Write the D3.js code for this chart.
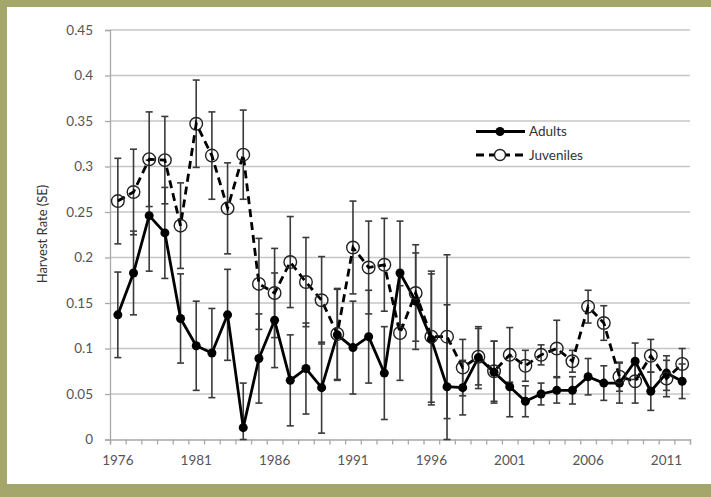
<!DOCTYPE html>
<html>
<head>
<meta charset="utf-8">
<script src="https://cdn.jsdelivr.net/npm/d3@7"></script>
<style>
  html, body { margin: 0; padding: 0; background: #a4a66c; }
  svg { display: block; }
  text { font-family: Lato, "Open Sans", sans-serif; }
</style>
</head>
<body>
<svg id="chart" width="711" height="497"></svg>
<script>
const years = d3.range(1976, 2013);
const adults = [0.137,0.183,0.246,0.227,0.133,0.103,0.095,0.137,0.013,0.089,
                0.131,0.065,0.078,0.057,0.115,0.101,0.113,0.073,0.183,0.152,
                0.110,0.058,0.057,0.090,0.074,0.058,0.042,0.050,0.054,0.054,
                0.069,0.062,0.062,0.086,0.053,0.073,0.064];
const adultsSE = [0.047,0.046,0.061,0.050,0.049,0.049,0.049,0.050,0.049,0.049,
                  0.052,0.050,0.050,0.050,0.050,0.051,0.051,0.051,0.057,0.053,
                  0.072,0.090,0.030,0.034,0.034,0.033,0.017,0.012,0.014,0.015,
                  0.020,0.019,0.022,0.020,0.021,0.019,0.019];
const juveniles = [0.262,0.272,0.308,0.307,0.235,0.347,0.312,0.254,0.313,0.171,
                   0.161,0.195,0.173,0.153,0.116,0.211,0.189,0.192,0.117,0.161,
                   0.113,0.113,0.079,0.091,0.075,0.093,0.081,0.093,0.100,0.086,
                   0.146,0.128,0.069,0.064,0.092,0.067,0.083];
const juvenilesSE = [0.047,0.047,0.052,0.048,0.047,0.048,0.048,0.050,0.049,0.050,
                     0.049,0.050,0.049,0.048,0.050,0.051,0.051,0.051,0.052,0.053,
                     0.072,0.090,0.031,0.031,0.033,0.030,0.017,0.011,0.031,0.012,
                     0.018,0.019,0.016,0.024,0.018,0.020,0.017];
const yTicks = [0,0.05,0.1,0.15,0.2,0.25,0.3,0.35,0.4,0.45];
const xLabelYears = [1976,1981,1986,1991,1996,2001,2006,2011];
const yTitle = "Harvest Rate (SE)";
const seriesNames = ["Adults","Juveniles"];

(function(){
const svg = d3.select("#chart");
svg.append("rect").attr("x",7).attr("y",7).attr("width",704).attr("height",477).attr("fill","#ffffff");

const pLeft = 110, pRight = 690, pTop = 30, pBottom = 439.5;
const x = d3.scaleBand().domain(years).range([pLeft, pRight]).paddingInner(0).paddingOuter(0);
const xEdge = d3.scaleLinear().domain([0, years.length]).range([pLeft, pRight]);
const y = d3.scaleLinear().domain([0, 0.45]).range([pBottom, pTop]);
const cx = yr => x(yr) + x.bandwidth()/2;

// gridlines
svg.append("g").selectAll("line").data(yTicks.filter(t=>t>0)).join("line")
  .attr("x1", pLeft).attr("x2", pRight)
  .attr("y1", d=>y(d)).attr("y2", d=>y(d))
  .attr("stroke","#c6c6c6").attr("stroke-width",1.3);

// y axis
const yAxis = svg.append("g").attr("transform",`translate(${pLeft},0)`)
  .call(d3.axisLeft(y).tickValues(yTicks).tickSize(5).tickPadding(12)
        .tickFormat(d => String(+d.toFixed(2))));
yAxis.select(".domain").attr("stroke","#a8a8a8").attr("stroke-width",1.3);
yAxis.selectAll(".tick line").attr("stroke","#a8a8a8").attr("stroke-width",1.3);
yAxis.selectAll(".tick text").attr("fill","#555").attr("font-size",13.5);

// x axis tick marks at band edges
const xAxisMarks = svg.append("g").attr("transform",`translate(0,${pBottom})`)
  .call(d3.axisBottom(xEdge).tickValues(d3.range(0, years.length+1)).tickSize(5).tickFormat(""));
xAxisMarks.select(".domain").attr("stroke","#a8a8a8").attr("stroke-width",1.3);
xAxisMarks.selectAll(".tick line").attr("stroke","#a8a8a8").attr("stroke-width",1.3);

const xAxisLabels = svg.append("g").attr("transform",`translate(0,${pBottom})`)
  .call(d3.axisBottom(x).tickValues(xLabelYears).tickSize(0).tickPadding(16));
xAxisLabels.select(".domain").remove();
xAxisLabels.selectAll(".tick text").attr("fill","#555").attr("font-size",13.5);

// y title
svg.append("text").attr("transform","translate(47,234) rotate(-90)")
  .attr("text-anchor","middle").attr("font-size",13).attr("fill","#333").text(yTitle);

function errorBars(vals, ses) {
  const g = svg.append("g").attr("stroke","#3a3a3a").attr("stroke-width",1.6);
  years.forEach((yr,i) => {
    const lo = Math.max(0, vals[i]-ses[i]), hi = vals[i]+ses[i];
    const xc = cx(yr);
    g.append("line").attr("x1",xc).attr("x2",xc).attr("y1",y(lo)).attr("y2",y(hi));
    g.append("line").attr("x1",xc-3.5).attr("x2",xc+3.5).attr("y1",y(lo)).attr("y2",y(lo));
    g.append("line").attr("x1",xc-3.5).attr("x2",xc+3.5).attr("y1",y(hi)).attr("y2",y(hi));
  });
}
errorBars(adults, adultsSE);
errorBars(juveniles, juvenilesSE);

const line = d3.line().x((d,i)=>cx(years[i])).y(d=>y(d));

// adults
svg.append("path").datum(adults).attr("d",line).attr("fill","none")
  .attr("stroke","#000").attr("stroke-width",2.8).attr("stroke-linejoin","round");
svg.append("g").selectAll("circle").data(adults).join("circle")
  .attr("cx",(d,i)=>cx(years[i])).attr("cy",d=>y(d)).attr("r",4.5).attr("fill","#000");

// juveniles
svg.append("path").datum(juveniles).attr("d",line).attr("fill","none")
  .attr("stroke","#000").attr("stroke-width",2.8).attr("stroke-dasharray","8,5");
svg.append("g").selectAll("circle").data(juveniles).join("circle")
  .attr("cx",(d,i)=>cx(years[i])).attr("cy",d=>y(d)).attr("r",6.3)
  .attr("fill","none").attr("stroke","#222").attr("stroke-width",1.4);

// legend
const lg = svg.append("g");
lg.append("line").attr("x1",476).attr("x2",525).attr("y1",131.5).attr("y2",131.5)
  .attr("stroke","#000").attr("stroke-width",2.8);
lg.append("circle").attr("cx",500).attr("cy",131.5).attr("r",4.5).attr("fill","#000");
lg.append("text").attr("x",529).attr("y",131.5).attr("dy","0.35em").attr("font-size",13.5).attr("fill","#333").text(seriesNames[0]);
lg.append("line").attr("x1",476).attr("x2",525).attr("y1",155).attr("y2",155)
  .attr("stroke","#000").attr("stroke-width",2.8).attr("stroke-dasharray","8,5");
lg.append("circle").attr("cx",500).attr("cy",155).attr("r",5.5).attr("fill","#fff").attr("stroke","#222").attr("stroke-width",1.4);
lg.append("text").attr("x",529).attr("y",155).attr("dy","0.35em").attr("font-size",13.5).attr("fill","#333").text(seriesNames[1]);
})();
</script>
</body>
</html>
